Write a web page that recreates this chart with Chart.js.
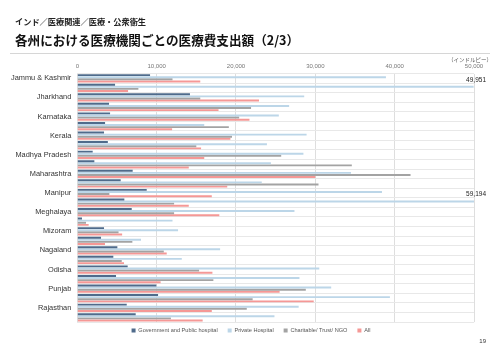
<!DOCTYPE html>
<html><head><meta charset="utf-8">
<script src="https://cdn.jsdelivr.net/npm/chart.js@4.4.1/dist/chart.umd.min.js"></script>
<style>
html,body{margin:0;padding:0;background:#fff;}
body{width:500px;height:353px;position:relative;overflow:hidden;font-family:"Noto Sans CJK JP","Liberation Sans",sans-serif;}
#wrap{position:absolute;left:0;top:0;width:500px;height:353px;}
.sub{position:absolute;left:15px;top:16px;font-size:8.2px;line-height:10px;font-weight:bold;color:#222;white-space:nowrap;}
.title{position:absolute;left:15px;top:32px;font-size:12.6px;line-height:16px;font-weight:bold;color:#111;white-space:nowrap;}
.rule{position:absolute;left:10px;top:53px;width:480px;height:1px;background:#d6d6d6;}
.unit{position:absolute;right:8px;top:57px;font-size:5.5px;line-height:7px;color:#555;white-space:nowrap;}
.page{position:absolute;right:14px;top:337px;font-size:6px;line-height:8px;color:#333;font-family:"Liberation Sans",sans-serif;}
</style></head>
<body>
<div id="wrap"><canvas id="c" width="500" height="353"></canvas></div>
<div class="sub">インド／医療関連／医療・公衆衛生</div>
<div class="title">各州における医療機関ごとの医療費支出額（2/3）</div>
<div class="rule"></div>
<div class="unit">（インドルピー）</div>
<div class="page">19</div>
<script>
const states = ["Jammu & Kashmir","Jharkhand","Karnataka","Kerala","Madhya Pradesh","Maharashtra","Manipur","Meghalaya","Mizoram","Nagaland","Odisha","Punjab","Rajasthan"];
const seriesNames = ["Government and Public hospital","Private Hospital","Charitable/ Trust/ NGO","All"];
const govt    = [9170,4760, 14200,4000, 4130,3500, 3370,3850, 1940,2150, 6980,5470, 8750,5930, 6860,590, 3370,2990, 5050,4540, 6350,4880, 9960,10180, 6230,7360];
const priv    = [38900,49951, 28600,26700, 25400,16000, 28900,23900, 28500,24400, 34500,23250, 38400,59194, 27370,12000, 12700,8030, 18000,13170, 30500,28000, 32000,39400, 27900,24850];
const charity = [12000,7700, 15500,21900, 20400,19100, 19500,15000, 25700,34600, 42000,30400, 4040,12200, 12200,1100, 5200,6940, 10900,5600, 15350,17150, 28800,22100, 21360,11800];
const allExp  = [15500,6400, 22900,17800, 21700,11950, 19300,15600, 16000,14050, 30000,18900, 16950,14050, 17900,1430, 5650,3490, 11270,5890, 17030,10500, 25500,29800, 16950,15800];
const xTicks = [0,10000,20000,30000,40000,50000];

const labels = [];
states.forEach(s => { labels.push(s); labels.push(""); });

const colors = ["#4f6b8b","#bcd6e8","#a3a3a3","#f59896"];
const values = [govt, priv, charity, allExp];

const valueLabels = {
  id:'valueLabels',
  afterDatasetsDraw(chart){
    const ctx = chart.ctx, meta = chart.getDatasetMeta(1), xs = chart.scales.x;
    ctx.save();
    ctx.font = '6.5px "Liberation Sans", sans-serif';
    ctx.fillStyle = '#222'; ctx.textAlign = 'right'; ctx.textBaseline = 'middle';
    priv.forEach((v,i) => {
      if (v >= xs.max*0.98) {
        const el = meta.data[i];
        ctx.fillText(v.toLocaleString('en-US'), xs.right + 12, el.y - 7);
      }
    });
    ctx.restore();
  }
};
const legendShift = {
  id:'legendShift',
  afterLayout(chart){
    if (chart.legend) {
      chart.legend.top -= 4.5; chart.legend.bottom -= 4.5;
      chart.legend.left += 14; chart.legend.right += 14;
    }
  }
};

new Chart(document.getElementById('c'), {
  type:'bar',
  data:{
    labels: labels,
    datasets: values.map((d,i)=>({
      label: seriesNames[i], data: d, backgroundColor: colors[i], borderWidth:0,
      categoryPercentage:0.88, barPercentage:0.92
    }))
  },
  options:{
    indexAxis:'y', responsive:false, animation:false,
    layout:{padding:{left:0,right:26,top:60,bottom:5.3}},
    scales:{
      x:{
        position:'top', min:0, max:50000,
        afterBuildTicks(s){ s.ticks = xTicks.map(v=>({value:v})); },
        afterFit(s){ s.height = 13.5; },
        grid:{color:'#dedede', lineWidth:1, drawTicks:false},
        border:{display:false},
        ticks:{font:{size:6, family:'"Liberation Sans", sans-serif'}, color:'#777', padding:4,
          callback:(v)=>Number(v).toLocaleString('en-US')}
      },
      y:{
        afterFit(s){ s.width = 77.3; },
        grid:{color:'#e8e8e8', lineWidth:1, drawTicks:false, offset:true},
        border:{display:false},
        ticks:{autoSkip:false, font:{size:7.4, family:'"Liberation Sans", sans-serif'}, color:'#333', padding:6}
      }
    },
    plugins:{
      legend:{position:'bottom', labels:{boxWidth:4, boxHeight:4, padding:10, color:'#555',
        font:{size:5.6, family:'"Liberation Sans", sans-serif'}}},
      tooltip:{enabled:false}
    }
  },
  plugins:[valueLabels, legendShift]
});
</script>
</body></html>
